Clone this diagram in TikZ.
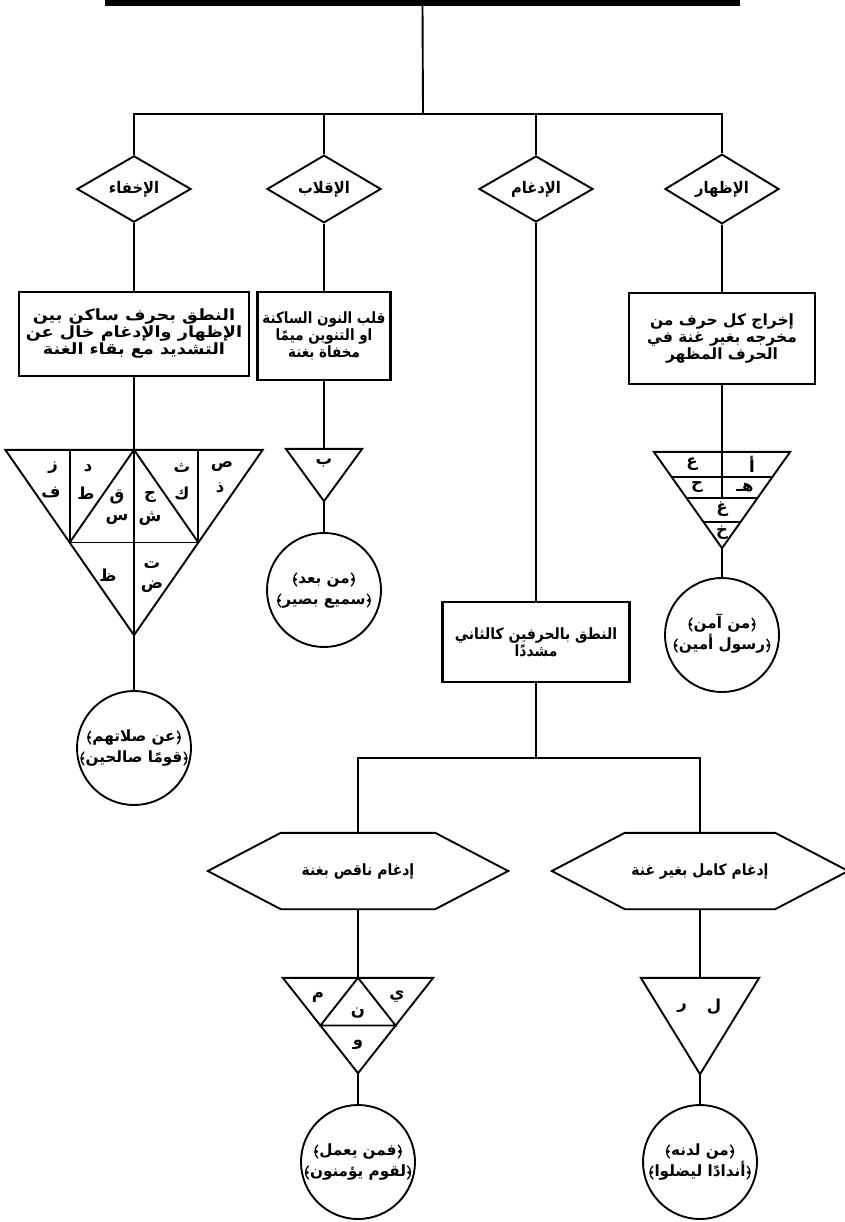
\documentclass[tikz,border=0pt]{standalone}
\usepackage{fontspec}
\usetikzlibrary{shapes.geometric,calc}
\TeXXeTstate=1
\newfontfamily\arabicfont[Script=Arabic]{DejaVu Sans}
\newcommand\AR[1]{\beginR #1\endR}
\newcommand\boxfont[1]{\arabicfont\bfseries\fontsize{15.5}{17}\selectfont\addfontfeatures{FakeStretch=#1}}
\begin{document}
\begin{tikzpicture}[x=1pt,y=-1pt,
  line/.style={line width=1.9pt},
  boxnode/.style={draw, line width=2.8pt, rectangle, inner sep=0pt, align=center},
  dia/.style={draw, diamond, line width=1.9pt, minimum width=114pt, minimum height=64pt,
    inner sep=0pt, font=\arabicfont\bfseries\fontsize{16}{16}\selectfont\addfontfeatures{FakeStretch=0.92}},
  circ/.style={draw, circle, line width=1.9pt, minimum size=114pt, inner sep=0pt},
  qtext/.style={inner sep=0pt, text height=11pt, text depth=3pt,
    font=\arabicfont\bfseries\fontsize{15.5}{16}\selectfont\addfontfeatures{FakeStretch=0.98}},
  frame/.style={inner sep=0pt, draw=none},
  hexa/.style={inner sep=0pt, draw=none,
    font=\arabicfont\bfseries\fontsize{15.5}{16}\selectfont\addfontfeatures{FakeStretch=0.9}},
  letter/.style={font=\arabicfont\bfseries\fontsize{16.5}{16}\selectfont, inner sep=0pt},
  shapeline/.style={line width=1.9pt, line join=miter},
  % ornate Quranic brackets (no installed family has U+FD3E/U+FD3F): drawn as shapes
  rbr/.pic={\draw[line width=1.3pt, line cap=round] (0pt,6.5pt) .. controls (3.8pt,3pt) and (3.8pt,-3pt) .. (0pt,-6.5pt);
            \fill (1.3pt,0pt) circle (1.8pt);},
  lbr/.pic={\draw[line width=1.3pt, line cap=round] (0pt,6.5pt) .. controls (-3.8pt,3pt) and (-3.8pt,-3pt) .. (0pt,-6.5pt);
            \fill (-1.3pt,0pt) circle (1.8pt);},
]
\useasboundingbox (0,0) rectangle (844,1222);

% top bar and trunk
\node[frame, fill=black, minimum width=635pt, minimum height=6pt] (title) at (422.5,3) {};
\coordinate (hub) at (423,114);
\coordinate (hA) at (134,114);
\coordinate (hD) at (722,114);

% diamonds
\node[dia] (d1) at (134,189) {\AR{الإخفاء}};
\node[dia] (d2) at (324,189) {\AR{الإقلاب}};
\node[dia] (d3) at (536,189) {\AR{الإدغام}};
\node[dia] (d4) at (722,189) {\AR{الإظهار}};

\draw[line] (title.south) -- (hub);
\draw[line] (d1.north) -- (hA) -- (hD) -- (d4.north);
\draw[line] (d2.north) -- (d2.north |- hub);
\draw[line] (d3.north) -- (d3.north |- hub);

% definition boxes
\node[boxnode, font=\boxfont{1.14}, minimum width=230pt, minimum height=84pt] (b1) at (134,334)
  {\AR{النطق بحرف ساكن بين}\\\AR{الإظهار والإدغام خال عن}\\\AR{التشديد مع بقاء الغنة}};
\node[boxnode, font=\boxfont{0.87}, minimum width=133pt, minimum height=88pt] (b2) at (324,336)
  {\AR{قلب النون الساكنة}\\\AR{او التنوين ميمًا}\\\AR{مخفاة بغنة}};
\node[boxnode, font=\boxfont{1.0}, minimum width=186pt, minimum height=91pt] (b4) at (722,338.5)
  {\AR{إخراج كل حرف من}\\\AR{مخرجه بغير غنة في}\\\AR{الحرف المظهر}};
\node[boxnode, font=\boxfont{0.9}, minimum width=187pt, minimum height=80pt] (b3) at (536,642)
  {\AR{النطق بالحرفين كالثاني}\\\AR{مشددًا}};

\draw[line] (d1.south) -- (b1.north);
\draw[line] (d2.south) -- (b2.north);
\draw[line] (d3.south) -- (b3.north);
\draw[line] (d4.south) -- (b4.north);

% Ikhfa triangle
\node[frame, minimum width=257pt, minimum height=185pt] (t1) at (134,542.5) {};
\coordinate (t1ml) at ($(t1.north west)!0.5!(t1.south)$);
\coordinate (t1mr) at ($(t1.north east)!0.5!(t1.south)$);
\draw[shapeline] (t1.north west) -- (t1.north east) -- (t1.south) -- cycle;
\draw[shapeline] (t1.north) -- (t1.south);
\draw[shapeline] (t1ml) -- (t1mr);
\draw[shapeline] (t1ml) -- (t1.north) -- (t1mr);
\draw[shapeline] (t1ml) -- (t1ml |- t1.north);
\draw[shapeline] (t1mr) -- (t1mr |- t1.north);
\node[letter] (l1a) at (53,468) {\AR{ز}};
\node[letter] (l1b) at (51,493) {\AR{ف}};
\node[letter] (l1c) at (88,468) {\AR{د}};
\node[letter] (l1d) at (86,493) {\AR{ط}};
\node[letter] (l1e) at (117,497) {\AR{ق}};
\node[letter] (l1f) at (117,519) {\AR{س}};
\node[letter] (l1g) at (150,497) {\AR{ج}};
\node[letter] (l1h) at (150,519) {\AR{ش}};
\node[letter] (l1i) at (182,468) {\AR{ث}};
\node[letter] (l1j) at (182,493) {\AR{ك}};
\node[letter] (l1k) at (222,467) {\AR{ص}};
\node[letter] (l1l) at (220,488) {\AR{ذ}};
\node[letter] (l1m) at (108,575) {\AR{ظ}};
\node[letter] (l1n) at (152,565) {\AR{ت}};
\node[letter] (l1o) at (152,587) {\AR{ض}};

% Iqlab triangle
\node[frame, minimum width=76pt, minimum height=52pt] (t2) at (324,475) {};
\draw[shapeline] (t2.north west) -- (t2.north east) -- (t2.south) -- cycle;
\node[letter] (l2a) at (324,463) {\AR{ب}};

% Izhar triangle
\node[frame, minimum width=136pt, minimum height=96pt] (t4) at (722,500) {};
\draw[shapeline] (t4.north west) -- (t4.north east) -- (t4.south) -- cycle;
\foreach \f in {0.26,0.48,0.73}{
  \draw[shapeline] ($(t4.north west)!\f!(t4.south)$) -- ($(t4.north east)!\f!(t4.south)$);
}
\draw[shapeline] (t4.north) -- ($(t4.north)!0.48!(t4.south)$);
\node[letter] (l4a) at (692,464) {\AR{ع}};
\node[letter] (l4b) at (752,464) {\AR{أ}};
\node[letter] (l4c) at (697,487) {\AR{ح}};
\node[letter] (l4d) at (745,488) {\AR{هـ}};
\node[letter] (l4e) at (722,509) {\AR{غ}};
\node[letter] (l4f) at (722,533) {\AR{خ}};

\draw[line] (b1.south) -- (t1.north);
\draw[line] (b2.south) -- (t2.north);
\draw[line] (b4.south) -- (t4.north);

% example circles
\node[circ] (c1) at (134,748) {};
\node[qtext] (c1a) at (134,737.5) {\AR{عن صلاتهم}};
\node[qtext] (c1b) at (134,758.5) {\AR{قومًا صالحين}};
\node[circ] (c2) at (324,590) {};
\node[qtext] (c2a) at (324,579.5) {\AR{من بعد}};
\node[qtext] (c2b) at (324,600.5) {\AR{سميع بصير}};
\node[circ] (c4) at (722,635) {};
\node[qtext] (c4a) at (722,624.5) {\AR{من آمن}};
\node[qtext] (c4b) at (722,645.5) {\AR{رسول أمين}};
\draw[line] (t1.south) -- (c1.north);
\draw[line] (t2.south) -- (c2.north);
\draw[line] (t4.south) -- (c4.north);

% Idgham sub-branches
\coordinate (hub2) at (536,758);
\node[hexa, minimum width=300pt, minimum height=76pt] (h5) at (358,871) {\AR{إدغام ناقص بغنة}};
\node[hexa, minimum width=296pt, minimum height=76pt] (h6) at (700,871) {\AR{إدغام كامل بغير غنة}};
\foreach \h in {h5,h6}{
  \draw[shapeline] (\h.west) -- ([xshift=73pt]\h.north west) -- ([xshift=-73pt]\h.north east)
    -- (\h.east) -- ([xshift=-73pt]\h.south east) -- ([xshift=73pt]\h.south west) -- cycle;
}
\draw[line] (b3.south) -- (hub2);
\draw[line] (h5.north) -- (h5.north |- hub2) -- (h6.north |- hub2) -- (h6.north);

% lower triangles
\node[frame, minimum width=150pt, minimum height=95pt] (t5) at (358,1025.5) {};
\coordinate (t5ml) at ($(t5.north west)!0.5!(t5.south)$);
\coordinate (t5mr) at ($(t5.north east)!0.5!(t5.south)$);
\draw[shapeline] (t5.north west) -- (t5.north east) -- (t5.south) -- cycle;
\draw[shapeline] (t5ml) -- (t5mr) -- (t5.north) -- cycle;
\node[letter] (l5a) at (318,997) {\AR{م}};
\node[letter] (l5b) at (397,997) {\AR{ي}};
\node[letter] (l5c) at (358,1013) {\AR{ن}};
\node[letter] (l5d) at (358,1045) {\AR{و}};

\node[frame, minimum width=118pt, minimum height=96pt] (t6) at (700,1026) {};
\draw[shapeline] (t6.north west) -- (t6.north east) -- (t6.south) -- cycle;
\node[letter] (l6a) at (714,1007) {\AR{ل}};
\node[letter] (l6b) at (682,1008) {\AR{ر}};

\draw[line] (h5.south) -- (t5.north);
\draw[line] (h6.south) -- (t6.north);

\node[circ] (c5) at (358,1162) {};
\node[qtext] (c5a) at (358,1151.5) {\AR{فمن يعمل}};
\node[qtext] (c5b) at (358,1172.5) {\AR{لقوم يؤمنون}};
\node[circ] (c6) at (700,1162) {};
\node[qtext] (c6a) at (700,1151.5) {\AR{من لدنه}};
\node[qtext] (c6b) at (700,1172.5) {\AR{أندادًا ليضلوا}};
\draw[line] (t5.south) -- (c5.north);
\draw[line] (t6.south) -- (c6.north);

% brackets round every Quranic quotation
\foreach \q in {c1a,c1b,c2a,c2b,c4a,c4b,c5a,c5b,c6a,c6b}{
  \pic at ([xshift=1.5pt]\q.east) {rbr};
  \pic at ([xshift=-1.5pt]\q.west) {lbr};
}
\end{tikzpicture}
\end{document}
